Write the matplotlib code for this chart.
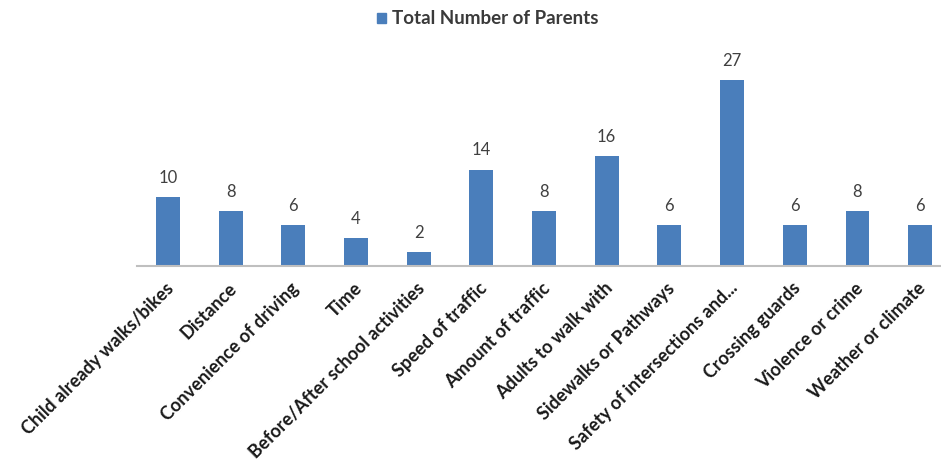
import matplotlib.pyplot as plt
import matplotlib.transforms as mtransforms
import numpy as np

categories = [
    'Child already walks/bikes',
    'Distance',
    'Convenience of driving',
    'Time',
    'Before/After school activities',
    'Speed of traffic',
    'Amount of traffic',
    'Adults to walk with',
    'Sidewalks or Pathways',
    'Safety of intersections and...',
    'Crossing guards',
    'Violence or crime',
    'Weather or climate',
]
parents = [10, 8, 6, 4, 2, 14, 8, 16, 6, 27, 6, 8, 6]
series_name = 'Total Number of Parents'

BAR_COLOR = '#4a7ebb'


def main():
    plt.rcParams['font.family'] = ['Lato', 'DejaVu Sans']

    fig = plt.figure(figsize=(9.41, 4.67), dpi=100)
    ax = fig.add_axes([0.1452, 0.4304, 0.8659, 0.4426])

    xs = np.arange(len(categories))
    ax.bar(xs, parents, width=0.38, color=BAR_COLOR)

    ax.set_xlim(-0.5, len(categories) - 0.5)
    ax.set_ylim(0, 30)

    for x, v in zip(xs, parents):
        ax.annotate(str(v), (x, v), xytext=(0, 8), textcoords='offset points',
                    ha='center', va='bottom', fontsize=12, color='#404040')

    for side in ['top', 'right', 'left']:
        ax.spines[side].set_visible(False)
    ax.spines['bottom'].set_color('#bfbfbf')
    ax.spines['bottom'].set_linewidth(1.5)
    ax.set_yticks([])
    ax.tick_params(axis='x', length=0, pad=14)

    ax.set_xticks(xs)
    offset = mtransforms.ScaledTranslation(0.03, 0, fig.dpi_scale_trans)
    ax.set_xticklabels(categories, rotation=45, ha='right', va='center',
                       rotation_mode='anchor', fontsize=13.1, fontweight='bold',
                       color='#1a1a1a')
    for lab in ax.get_xticklabels():
        lab.set_transform(lab.get_transform() + offset)

    # legend at the top
    fig.patches.append(plt.Rectangle((377 / 941, 1 - 23 / 467), 9 / 941, 10 / 467,
                                     transform=fig.transFigure, color=BAR_COLOR))
    fig.text(392 / 941, 1 - 18 / 467, series_name, ha='left', va='center',
             fontsize=13.5, fontweight='bold', color='#3a3a3a')

    fig.savefig('out.png', dpi=100)
    plt.close()


if __name__ == '__main__':
    main()
